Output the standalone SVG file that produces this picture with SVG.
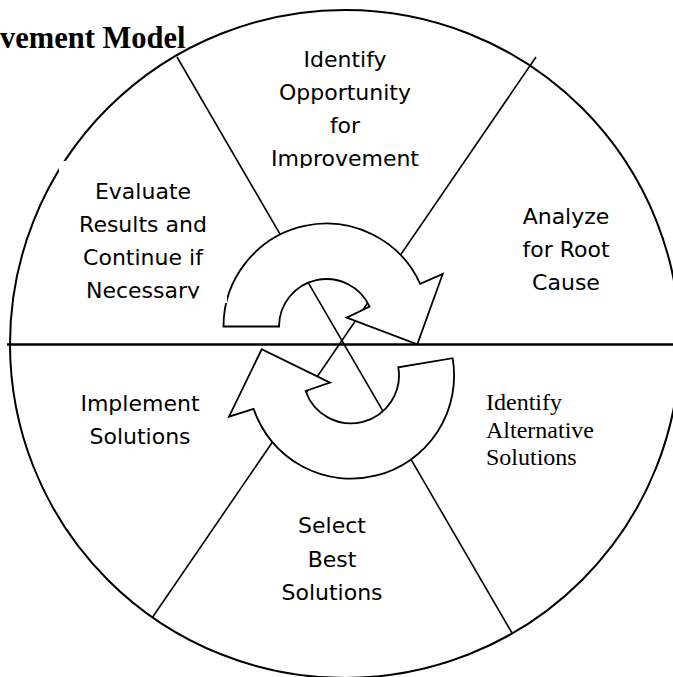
<svg xmlns="http://www.w3.org/2000/svg" width="673" height="677" viewBox="0 0 673 677">
  <style>
    .wheel { fill: none; stroke: #000; stroke-width: 2; }
    .divider { stroke: #000; stroke-width: 1.6; fill: none; }
    .axis { stroke: #000; stroke-width: 2.4; }
    .cycle { fill: #fff; stroke: #000; stroke-width: 1.8; stroke-linejoin: miter; }
    .hand { font-family: 'Comic Sans MS', 'DejaVu Sans', sans-serif; font-size: 22px; fill: #000; text-anchor: middle; }
    .serif { font-family: 'Liberation Serif', 'Times New Roman', serif; font-size: 24px; fill: #000; }
    .title { font-family: 'Liberation Serif', 'Times New Roman', serif; font-size: 30.5px; font-weight: bold; fill: #000; }
  </style>
  <defs>
    <clipPath id="clip-identify"><rect x="250" y="30" width="190" height="138"/></clipPath>
    <clipPath id="clip-evaluate"><rect x="59" y="161" width="168" height="137.5"/></clipPath>
  </defs>

  <rect x="0" y="0" width="673" height="677" fill="#fff"/>

  <!-- title -->
  <text class="title" x="0" y="48">vement Model</text>

  <!-- wheel outline and dividers -->
  <g id="connectors">
    <ellipse class="wheel" cx="345" cy="344" rx="335" ry="334"/>
    <line class="axis" x1="7" y1="344.5" x2="673" y2="344.5"/>
    <line class="divider" x1="177" y1="57" x2="512" y2="633"/>
    <line class="divider" x1="536" y1="57" x2="152" y2="618"/>
  </g>

  <!-- circular arrows in the hub -->
  <g id="cycle-arrows">
    <path class="cycle" d="M223.5,326.5 A103,103 0 0 1 420.2,283.8 L442.7,274 L417.3,344.3 L346.7,317.7 L369.6,306.6 A47.5,47.5 0 0 0 279,326.5 Z"/>
    <path class="cycle" d="M452.6,358.2 A103,103 0 0 1 253.6,408.9 L229,416.7 L261.7,349.3 L330,382.7 L305.6,391 A48,48 0 0 0 398.3,367.3 Z"/>
  </g>

  <!-- step labels -->
  <g id="step-identify-opportunity" clip-path="url(#clip-identify)">
    <text class="hand" x="345" y="67">Identify</text>
    <text class="hand" x="345" y="100">Opportunity</text>
    <text class="hand" x="345" y="133">for</text>
    <text class="hand" x="345" y="166">Improvement</text>
  </g>

  <g id="step-analyze">
    <text class="hand" x="566" y="224">Analyze</text>
    <text class="hand" x="566" y="257">for Root</text>
    <text class="hand" x="566" y="290">Cause</text>
  </g>

  <g id="step-identify-alternatives">
    <text class="serif" x="486" y="410">Identify</text>
    <text class="serif" x="486" y="438">Alternative</text>
    <text class="serif" x="486" y="465">Solutions</text>
  </g>

  <g id="step-select">
    <text class="hand" x="332" y="533">Select</text>
    <text class="hand" x="332" y="567">Best</text>
    <text class="hand" x="332" y="600">Solutions</text>
  </g>

  <g id="step-implement">
    <text class="hand" x="140" y="411">Implement</text>
    <text class="hand" x="140" y="444">Solutions</text>
  </g>

  <g id="step-evaluate">
    <rect x="59" y="161" width="168" height="142" fill="#fff"/>
    <g clip-path="url(#clip-evaluate)">
      <text class="hand" x="143" y="199">Evaluate</text>
      <text class="hand" x="143" y="232">Results and</text>
      <text class="hand" x="143" y="265">Continue if</text>
      <text class="hand" x="143" y="298">Necessary</text>
    </g>
  </g>
</svg>
